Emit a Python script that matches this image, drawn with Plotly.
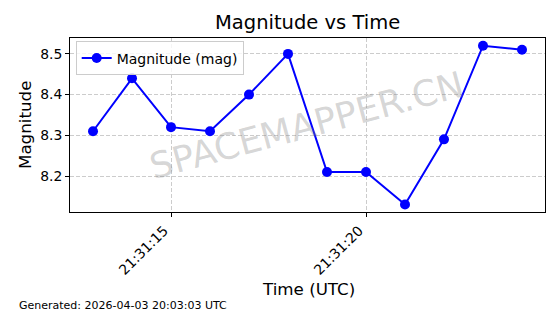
import plotly.graph_objects as go

times = ["2026-04-03 21:31:13", "2026-04-03 21:31:14", "2026-04-03 21:31:15",
         "2026-04-03 21:31:16", "2026-04-03 21:31:17", "2026-04-03 21:31:18",
         "2026-04-03 21:31:19", "2026-04-03 21:31:20", "2026-04-03 21:31:21",
         "2026-04-03 21:31:22", "2026-04-03 21:31:23", "2026-04-03 21:31:24"]
magnitudes = [8.31, 8.44, 8.32, 8.31, 8.40, 8.50, 8.21, 8.21, 8.13, 8.29, 8.52, 8.51]
y_ticks = [8.2, 8.3, 8.4, 8.5]

FONT = "DejaVu Sans"

fig = go.Figure()
fig.add_trace(go.Scatter(
    x=times, y=magnitudes, mode="lines+markers", name="Magnitude (mag)",
    line=dict(color="#0000ff", width=2),
    marker=dict(color="#0000ff", size=10),
))

fig.update_layout(
    width=560, height=314,
    margin=dict(l=70, r=15, t=38, b=102),
    paper_bgcolor="white", plot_bgcolor="white",
    font=dict(family=FONT, color="black", size=13.9),
    showlegend=True,
    legend=dict(x=0.012, y=0.98, xanchor="left", yanchor="top",
                bordercolor="#cccccc", borderwidth=1, bgcolor="rgba(255,255,255,0.8)",
                font=dict(size=14, family=FONT)),
    xaxis=dict(
        type="date", range=["2026-04-03 21:31:12.41", "2026-04-03 21:31:24.59"],
        tick0="2026-04-03 21:31:15", dtick=5000, tickformat="%H:%M:%S",
        tickangle=-45, ticks="outside", ticklen=4, tickcolor="black",
        ticklabelshift=-7,
        showline=True, linecolor="black", linewidth=1, mirror=True,
        showgrid=True, gridcolor="#cccccc", griddash="4px,2px", gridwidth=1,
        zeroline=False, tickfont=dict(size=13.9),
    ),
    yaxis=dict(
        range=[8.1116, 8.539], tickvals=y_ticks, ticktext=[f"{v:.1f}" for v in y_ticks],
        ticks="outside", ticklen=4, tickcolor="black",
        showline=True, linecolor="black", linewidth=1, mirror=True,
        showgrid=True, gridcolor="#cccccc", griddash="4px,2px", gridwidth=1,
        zeroline=False, tickfont=dict(size=13.9),
    ),
)

plot_h = 314 - 38 - 102
plot_w = 560 - 70 - 15
def py(pix):
    return (314 - 102 - pix) / plot_h
def px(pix):
    return (pix - 70) / plot_w

fig.add_annotation(text="Magnitude vs Time", x=px(307), y=py(23), xref="paper", yref="paper",
                   showarrow=False, font=dict(size=19.5, family=FONT), xanchor="center", yanchor="middle")
fig.add_annotation(text="Time (UTC)", x=px(308), y=py(289), xref="paper", yref="paper",
                   showarrow=False, font=dict(size=16.7, family=FONT), xanchor="center", yanchor="middle")
fig.add_annotation(text="Magnitude", x=px(25), y=py(125), xref="paper", yref="paper",
                   showarrow=False, textangle=-90, font=dict(size=16.7, family=FONT),
                   xanchor="center", yanchor="middle")
fig.add_annotation(text="Generated: 2026-04-03 20:03:03 UTC", x=px(17), y=py(305),
                   xref="paper", yref="paper", showarrow=False,
                   font=dict(size=11, family=FONT), xanchor="left", yanchor="middle")
fig.add_annotation(text="SPACEMAPPER.CN", x=px(306), y=py(125), xref="paper", yref="paper",
                   showarrow=False, textangle=-15,
                   font=dict(size=36, family=FONT, color="rgba(128,128,128,0.33)"),
                   xanchor="center", yanchor="middle")

fig.write_html("out.html")
